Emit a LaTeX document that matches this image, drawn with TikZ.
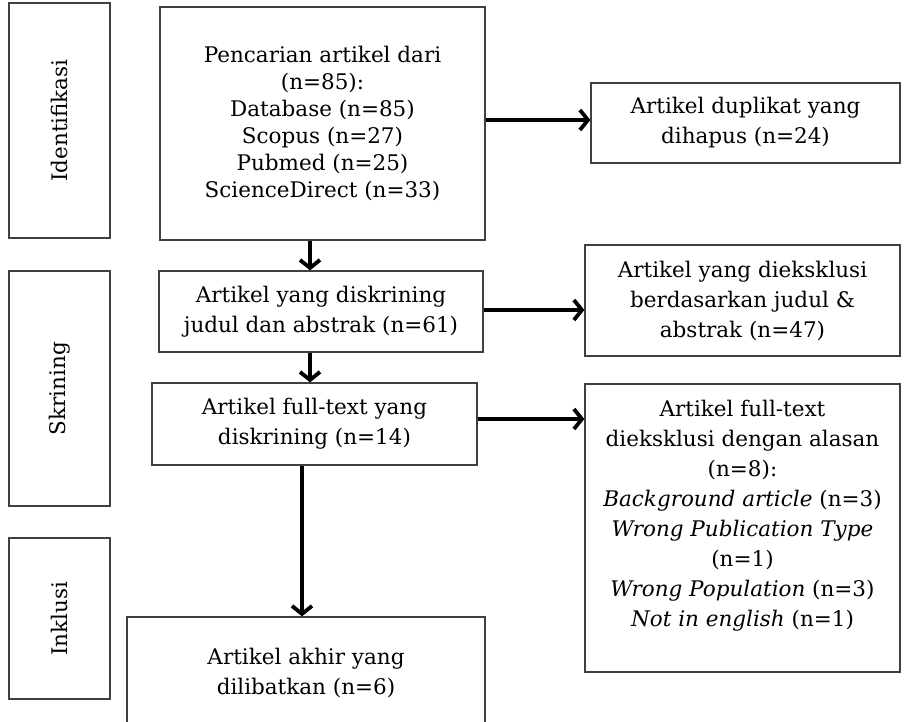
\documentclass[tikz,border=0pt]{standalone}
\usepackage{fontspec}
\setmainfont{DejaVu Serif}
\usetikzlibrary{arrows.meta,positioning}
\tikzset{
  box/.style={draw=black!75,line width=1.3pt,align=center,inner sep=0pt,
    font=\fontsize{21.5}{30}\selectfont},
  stage/.style={box,rotate=90},
  flow/.style={-{Straight Barb[length=8pt,width=20pt]},line width=3.8pt},
}

\begin{document}
\begin{tikzpicture}[x=1pt,y=-1pt]
  \useasboundingbox (0,0) rectangle (904,721);
  \clip (0,0) rectangle (904,721);
  % ---------------- stage labels on the left ---------------------------
  \node[stage,minimum width=235pt,minimum height=101pt] (ident) at (59.5,120.5) {Identifikasi};
  \node[stage,minimum width=235pt,minimum height=101pt] (skrin) at (59.5,388.5) {Skrining};
  \node[stage,minimum width=161pt,minimum height=101pt] (inkl) at (59.5,618.5) {Inklusi};
  % ---------------- main column ----------------------------------------
  \node[box,minimum width=325pt,minimum height=233pt,
        font=\fontsize{21.5}{27}\selectfont] (search) at (322.5,123.5)
    {Pencarian artikel dari\\(n=85):\\Database (n=85)\\Scopus (n=27)\\Pubmed (n=25)\\ScienceDirect (n=33)};
  \node[box,minimum width=324pt,minimum height=81pt] (screen) at (321,311.5)
    {Artikel yang diskrining\\judul dan abstrak (n=61)};
  \node[box,minimum width=325pt,minimum height=82pt] (full) at (314.5,424)
    {Artikel full-text yang\\diskrining (n=14)};
  \node[box,minimum width=358pt,minimum height=112pt] (final) at (306,673)
    {Artikel akhir yang\\dilibatkan (n=6)};
  % ---------------- excluded records on the right ----------------------
  \node[box,minimum width=309pt,minimum height=80pt] (dup) at (745.5,123)
    {Artikel duplikat yang\\dihapus (n=24)};
  \node[box,minimum width=315pt,minimum height=111pt] (excl1) at (742.5,300.5)
    {Artikel yang dieksklusi\\berdasarkan judul \&\\abstrak (n=47)};
  % the empty last line lifts the list, as in the source
  \node[box,minimum width=315pt,minimum height=288pt] (excl2) at (742.5,528)
    {Artikel full-text\\dieksklusi dengan alasan\\(n=8):\\\textit{Background article} (n=3)\\
     \textit{Wrong Publication Type}\\(n=1)\\\textit{Wrong Population} (n=3)\\\textit{Not in english} (n=1)\\\mbox{}};
  % ---------------- connectors ------------------------------------------
  \coordinate (xa) at (310,0);
  \coordinate (xb) at (302,0);
  \draw[flow] ([yshift=3pt]search.east |- dup.west) -- ([yshift=3pt]dup.west);
  \draw[flow] (xa |- search.south) -- (xa |- screen.north);
  \draw[flow] ([yshift=1.5pt]screen.east) -- ([yshift=1.5pt]screen.east -| excl1.west);
  \draw[flow] (xa |- screen.south) -- (xa |- full.north);
  \draw[flow] ([yshift=5pt]full.east) -- ([yshift=5pt]full.east -| excl2.west);
  \draw[flow] (xb |- full.south) -- (xb |- final.north);
\end{tikzpicture}
\end{document}
